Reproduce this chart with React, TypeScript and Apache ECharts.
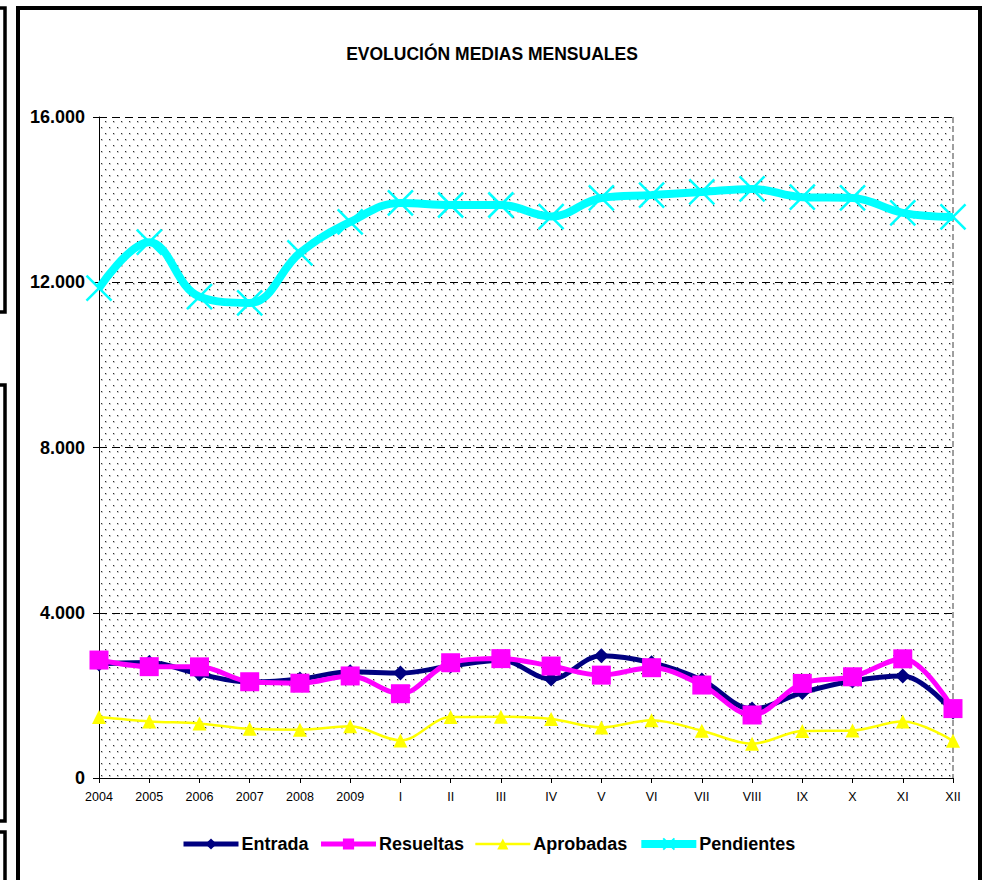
import React, { useEffect, useRef } from 'react';
import * as echarts from 'echarts';

const categories = ['2004', '2005', '2006', '2007', '2008', '2009', 'I', 'II', 'III', 'IV', 'V', 'VI', 'VII', 'VIII', 'IX', 'X', 'XI', 'XII'];
const entrada = [2760, 2795, 2515, 2320, 2395, 2570, 2540, 2710, 2850, 2395, 2960, 2790, 2370, 1670, 2070, 2350, 2470, 1600];
const resueltas = [2855, 2695, 2690, 2330, 2295, 2470, 2040, 2790, 2890, 2710, 2490, 2670, 2250, 1525, 2290, 2450, 2885, 1680];
const aprobadas = [1475, 1370, 1320, 1190, 1170, 1250, 910, 1475, 1485, 1430, 1225, 1400, 1145, 830, 1135, 1150, 1365, 900];
const pendientes = [11860, 12970, 11650, 11500, 12710, 13460, 13920, 13870, 13870, 13590, 14040, 14110, 14185, 14260, 14060, 14040, 13680, 13580];
const yMin = 0;
const yMax = 16000;
const yInterval = 4000;

const FONT = '"Liberation Sans", Arial, Helvetica, sans-serif';

function makePattern() {
  const c = document.createElement('canvas');
  c.width = 8;
  c.height = 12;
  const ctx = c.getContext('2d') as CanvasRenderingContext2D;
  ctx.fillStyle = '#ffffff';
  ctx.fillRect(0, 0, 8, 12);
  const dot = (x: number, y: number) => {
    ctx.fillStyle = '#cccccc';
    ctx.fillRect(x + 1, y, 1, 1);
    ctx.fillRect(x, y + 1, 1, 1);
    ctx.fillRect(x + 1, y + 1, 1, 1);
    ctx.fillStyle = '#2e2e2e';
    ctx.fillRect(x, y, 1, 1);
  };
  dot(1, 1);
  dot(5, 7);
  return { image: c, repeat: 'repeat', imageWidth: 8, imageHeight: 12 };
}

export default function App() {
  const ref = useRef<HTMLDivElement>(null);
  useEffect(() => {
    if (!ref.current) return;
    const chart = echarts.init(ref.current, null, { renderer: 'svg' });
    const fmt = (v: number) => String(v).replace(/\B(?=(\d{3})+(?!\d))/g, '.');
    const option: any = {
      animation: false,
      backgroundColor: '#ffffff',
      title: {
        text: 'EVOLUCIÓN MEDIAS MENSUALES',
        left: 'center',
        top: 40,
        padding: [5, 0, 5, 8],
        textStyle: { fontFamily: FONT, fontWeight: 'bold', fontSize: 17.5, color: '#000' },
      },
      graphic: [
        { type: 'rect', silent: true, z: -10, shape: { x: 18, y: 8, width: 962, height: 920 }, style: { fill: 'none', stroke: '#000', lineWidth: 4 } },
        { type: 'rect', silent: true, z: -10, shape: { x: -20, y: 8, width: 25, height: 304 }, style: { fill: 'none', stroke: '#000', lineWidth: 3.5 } },
        { type: 'rect', silent: true, z: -10, shape: { x: -20, y: 385, width: 25, height: 436 }, style: { fill: 'none', stroke: '#000', lineWidth: 3.5 } },
        { type: 'rect', silent: true, z: -10, shape: { x: -20, y: 832, width: 25, height: 120 }, style: { fill: 'none', stroke: '#000', lineWidth: 3.5 } },
      ],
      grid: {
        left: 99,
        right: 31,
        top: 117,
        bottom: 102,
        show: true,
        backgroundColor: makePattern(),
        borderWidth: 0,
      },
      legend: {
        bottom: 22,
        left: 176,
        itemWidth: 55,
        itemHeight: 14,
        itemGap: 10,
        lineStyle: { width: 'inherit' },
        textStyle: { fontFamily: FONT, fontWeight: 'bold', fontSize: 18, color: '#000', padding: [0, 0, 0, -2] },
        data: ['Entrada', 'Resueltas', 'Aprobadas', 'Pendientes'],
      },
      xAxis: {
        type: 'category',
        data: categories,
        boundaryGap: false,
        axisLine: { show: true, lineStyle: { color: '#000', width: 1 } },
        axisTick: { show: true, inside: false, length: 5, alignWithLabel: true, lineStyle: { color: '#000' } },
        axisLabel: { fontFamily: FONT, fontSize: 12.5, color: '#000', margin: 12, interval: 0 },
        splitLine: {
          show: true,
          interval: (idx: number) => idx === categories.length - 1,
          lineStyle: { color: '#808080', type: [6, 3], width: 1.5 },
        },
      },
      yAxis: {
        type: 'value',
        min: yMin,
        max: yMax,
        interval: yInterval,
        axisLine: { show: true, lineStyle: { color: '#000', width: 1 } },
        axisTick: { show: true, inside: false, length: 6, lineStyle: { color: '#000' } },
        axisLabel: { fontFamily: FONT, fontWeight: 'bold', fontSize: 18, color: '#000', margin: 14, formatter: fmt },
        splitLine: { show: true, lineStyle: { color: '#000', type: [8, 5], width: 1 } },
      },
      series: [
        {
          name: 'Entrada',
          type: 'line',
          data: entrada,
          smooth: 0.35,
          symbol: 'diamond',
          symbolSize: 15,
          lineStyle: { color: '#000080', width: 5 },
          itemStyle: { color: '#000080' },
          z: 3,
        },
        {
          name: 'Resueltas',
          type: 'line',
          data: resueltas,
          smooth: 0.35,
          symbol: 'rect',
          symbolSize: 19,
          lineStyle: { color: '#FF00FF', width: 5 },
          itemStyle: { color: '#FF00FF' },
          z: 4,
        },
        {
          name: 'Aprobadas',
          type: 'line',
          data: aprobadas,
          smooth: 0.35,
          symbol: 'triangle',
          symbolSize: 14,
          lineStyle: { color: '#FFFF00', width: 2.5 },
          itemStyle: { color: '#FFFF00' },
          z: 2,
        },
        {
          name: 'Pendientes',
          type: 'line',
          data: pendientes,
          smooth: 0.4,
          symbol: 'path://M0,0L10,10M10,0L0,10',
          symbolSize: 25,
          lineStyle: { color: '#00FFFF', width: 8 },
          itemStyle: { color: '#00FFFF', borderColor: '#00FFFF', borderWidth: 2.5 },
          z: 2,
        },
      ],
    };
    chart.setOption(option);
    return () => chart.dispose();
  }, []);
  return <div ref={ref} style={{ position: 'absolute', left: 0, top: 0, width: 984, height: 880 }} />;
}
